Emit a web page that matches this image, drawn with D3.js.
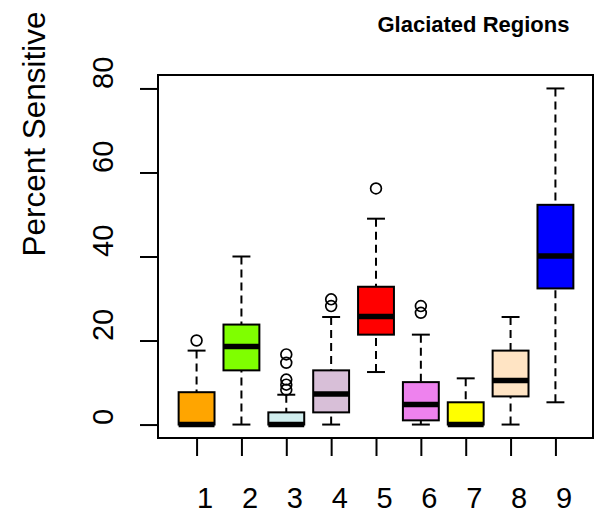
<!DOCTYPE html>
<html>
<head>
<meta charset="utf-8">
<script src="https://cdn.jsdelivr.net/npm/d3@7"></script>
<style>
  body { margin: 0; background: #fff; }
  text { font-family: "Liberation Sans", Arial, sans-serif; fill: #000; }
</style>
</head>
<body>
<svg id="chart" width="594" height="529"></svg>
<script>
// Five-number summaries per region (percent sensitive)
const regions      = ["1", "2", "3", "4", "5", "6", "7", "8", "9"];
const whiskerLow   = [0,    0,    0,   0,    12.5, 0,    0,    0,    5.3];
const q1           = [0,    12.9, 0,   2.9,  21.4, 1.0,  0,    6.7,  32.4];
const median       = [0,    18.6, 0,   7.3,  25.7, 4.8,  0,    10.5, 40.1];
const q3           = [7.7,  23.8, 2.9, 12.9, 32.8, 10.1, 5.3,  17.6, 52.3];
const whiskerHigh  = [17.6, 40,   7.1, 25.6, 49,   21.4, 11,   25.6, 80];
const outliers     = [[20], [], [16.7, 14.7, 10.7, 9.5, 8.3], [29.8, 28.2], [56.2], [28.2, 26.6], [], [], []];
const fills        = ["#FFA500", "#7FFF00", "#D1EEEE", "#D8BFD8", "#FF0000", "#EE82EE", "#FFFF00", "#FFE4C4", "#0000FF"];
const yTicks       = [0, 20, 40, 60, 80];
const titleText    = "Glaciated Regions";
const yLabelText   = "Percent Sensitive";

const svg = d3.select("#chart");
const plot = { left: 158, right: 593, top: 75, bottom: 438 };

const x = d3.scaleLinear().domain([0.14, 9.86]).range([plot.left, plot.right + 1]);
const y = d3.scaleLinear().domain([-3.2, 83.2]).range([plot.bottom, plot.top]);

const unit = x(1) - x(0);
const boxW = 0.8 * unit;
const capW = 0.4 * unit;

const data = regions.map((r, i) => ({
  pos: i + 1, label: r,
  lo: whiskerLow[i], q1: q1[i], med: median[i], q3: q3[i], hi: whiskerHigh[i],
  out: outliers[i], fill: fills[i]
}));

const g = svg.append("g");
const boxes = g.selectAll("g.box").data(data).join("g").attr("class", "box");

// whiskers: dashed from each extreme to the box edge
boxes.append("line")
  .attr("x1", d => x(d.pos)).attr("x2", d => x(d.pos))
  .attr("y1", d => y(d.hi)).attr("y2", d => y(d.q3))
  .attr("stroke", "#000").attr("stroke-width", 2).attr("stroke-dasharray", "8,5");
boxes.append("line")
  .attr("x1", d => x(d.pos)).attr("x2", d => x(d.pos))
  .attr("y1", d => y(d.lo)).attr("y2", d => y(d.q1))
  .attr("stroke", "#000").attr("stroke-width", 2).attr("stroke-dasharray", "8,5");

// staples
boxes.append("line")
  .attr("x1", d => x(d.pos) - capW / 2).attr("x2", d => x(d.pos) + capW / 2)
  .attr("y1", d => y(d.hi)).attr("y2", d => y(d.hi))
  .attr("stroke", "#000").attr("stroke-width", 2);
boxes.append("line")
  .attr("x1", d => x(d.pos) - capW / 2).attr("x2", d => x(d.pos) + capW / 2)
  .attr("y1", d => y(d.lo)).attr("y2", d => y(d.lo))
  .attr("stroke", "#000").attr("stroke-width", 2);

// boxes
boxes.append("rect")
  .attr("x", d => x(d.pos) - boxW / 2).attr("width", boxW)
  .attr("y", d => y(d.q3)).attr("height", d => y(d.q1) - y(d.q3))
  .attr("fill", d => d.fill).attr("stroke", "#000").attr("stroke-width", 2);

// medians
boxes.append("line")
  .attr("x1", d => x(d.pos) - boxW / 2).attr("x2", d => x(d.pos) + boxW / 2)
  .attr("y1", d => y(d.med)).attr("y2", d => y(d.med))
  .attr("stroke", "#000").attr("stroke-width", 5.5);

// outliers
boxes.selectAll("circle").data(d => d.out.map(v => ({ pos: d.pos, v })))
  .join("circle")
  .attr("cx", d => x(d.pos)).attr("cy", d => y(d.v)).attr("r", 5.4)
  .attr("fill", "none").attr("stroke", "#000").attr("stroke-width", 1.7);

// frame
svg.append("rect")
  .attr("x", plot.left).attr("y", plot.top)
  .attr("width", plot.right - plot.left).attr("height", plot.bottom - plot.top)
  .attr("fill", "none").attr("stroke", "#000").attr("stroke-width", 2);

// y axis
const yAxis = svg.append("g")
  .attr("transform", `translate(${plot.left},0)`)
  .call(d3.axisLeft(y).tickValues(yTicks).tickSize(18).tickFormat(d3.format("d")));
yAxis.select(".domain").remove();
yAxis.selectAll(".tick line").attr("stroke", "#000").attr("stroke-width", 2);
yAxis.selectAll(".tick text")
  .attr("x", 0).attr("y", 0).attr("dy", null)
  .attr("transform", "translate(-45,0) rotate(-90)")
  .attr("text-anchor", "start")
  .style("font-size", "29px").style("font-family", "Liberation Sans, Arial, sans-serif");

// x axis
const xAxis = svg.append("g")
  .attr("transform", `translate(0,${plot.bottom})`)
  .call(d3.axisBottom(x).tickValues(data.map(d => d.pos)).tickSize(18)
    .tickFormat((d, i) => regions[i]));
xAxis.select(".domain").remove();
xAxis.selectAll(".tick line").attr("stroke", "#000").attr("stroke-width", 2);
xAxis.selectAll(".tick text")
  .attr("y", 70).attr("dy", null)
  .attr("text-anchor", "start")
  .style("font-size", "29px").style("font-family", "Liberation Sans, Arial, sans-serif");

// y axis title
svg.append("text")
  .attr("transform", `translate(45,${(plot.top + plot.bottom) / 2}) rotate(-90)`)
  .attr("text-anchor", "start")
  .style("font-size", "31.5px")
  .text(yLabelText);

// chart title
svg.append("text")
  .attr("x", (plot.left + plot.right) / 2 + 2).attr("y", 32)
  .attr("text-anchor", "start")
  .style("font-size", "22px").style("font-weight", "bold")
  .text(titleText);
</script>
</body>
</html>
